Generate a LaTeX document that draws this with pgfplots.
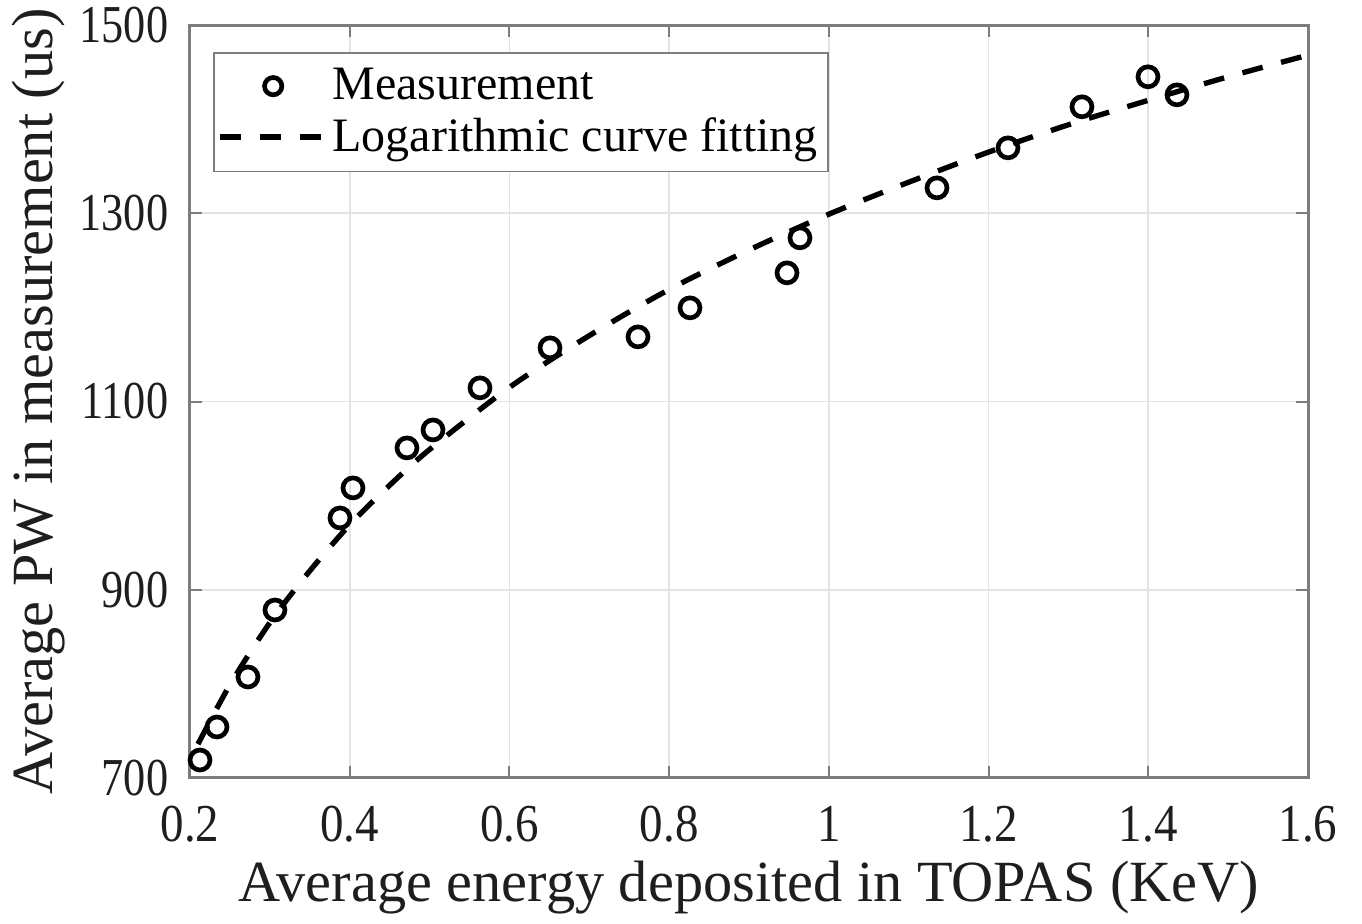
\documentclass[border=0pt]{standalone}
\usepackage{fontspec}
\setmainfont{Liberation Serif}
\newfontfamily\xtickfont{Liberation Serif}[FakeStretch=0.88]
\newfontfamily\ytickfont{Liberation Serif}[FakeStretch=0.83]
\usepackage{pgfplots}
\pgfplotsset{compat=1.18}

\definecolor{axgray}{RGB}{125,125,125}
\definecolor{txtgray}{RGB}{30,30,30}
\definecolor{gridgray}{RGB}{228,228,228}

\begin{document}
\begin{tikzpicture}
\begin{axis}[
    name=ax,
    width=335.4pt, height=225.9pt,
    scale only axis,
    xmin=0.2, xmax=1.6,
    ymin=700, ymax=1500,
    xtick={0.2,0.4,...,1.6},
    ytick={700,900,1100,1300,1500},
    xticklabels={0.2,0.4,0.6,0.8,1,1.2,1.4,1.6},
    /pgf/number format/1000 sep={},
    /pgf/number format/assume math mode=true,
    tick align=inside,
    major tick length=3.5pt,
    tick style={axgray, line width=0.6pt},
    axis line style={axgray, line width=0.9pt},
    grid=major,
    grid style={gridgray, line width=0.5pt},
    ticklabel style={text=txtgray},
    xticklabel style={font=\xtickfont\fontsize{16}{19}\selectfont, yshift=-5pt},
    yticklabel style={font=\ytickfont\fontsize{16}{19}\selectfont, xshift=-3pt},
    xlabel={Average energy deposited in TOPAS (KeV)},
    ylabel={Average PW in measurement (us)},
    label style={font=\fontsize{17.5}{21}\selectfont, text=txtgray},
    xlabel style={at={(rel axis cs:0.5,0)}, anchor=base, yshift=-37pt},
    ylabel style={at={(rel axis cs:0,0.5)}, anchor=base, yshift=41.1pt},
    legend cell align=left,
    legend style={
        at={(0.0206,0.964)}, anchor=north west,
        font=\fontsize{14.4}{16.5}\selectfont,
        draw=axgray, line width=0.5pt,
        inner xsep=1pt, inner ysep=2.5pt,
        row sep=0pt,
    },
    legend image code/.code={
        \draw[#1] (0pt,0pt) -- (31pt,0pt);
    },
]
\addplot[only marks, mark=o, mark size=3pt, black, line width=1.4pt,
    legend image code/.code={\draw[black, line width=1.4pt] (16pt,0pt) circle (2.6pt);}]
coordinates {
    (0.2125,719.1) (0.2338,754.2) (0.2726,807.3) (0.3064,878.5)
    (0.3878,976.3) (0.4041,1008.2) (0.4717,1050.7) (0.5043,1069.8)
    (0.5631,1114.5) (0.6508,1157.0) (0.7610,1168.7) (0.8261,1199.5)
    (0.9476,1236.7) (0.9638,1273.9) (1.1354,1327.0) (1.2243,1369.5)
    (1.3169,1413.1) (1.3996,1445.0) (1.4359,1425.8)
};
\addlegendentry{Measurement}
\addplot[black, line width=1.6pt, dash pattern=on 6.3pt off 5.7pt, smooth]
coordinates {
    (0.21,736) (0.25,799) (0.30,865) (0.35,920) (0.40,969) (0.45,1011)
    (0.50,1049) (0.60,1115) (0.70,1170) (0.80,1219) (0.90,1261)
    (1.00,1299) (1.10,1333) (1.20,1365) (1.30,1394) (1.40,1420)
    (1.50,1445) (1.60,1468)
};
\addlegendentry{Logarithmic curve fitting}
\end{axis}
\pgfresetboundingbox
\path[use as bounding box] (ax.south west) ++(-57pt,-43.8pt) rectangle ++(408.6pt,277.2pt);
\end{tikzpicture}
\end{document}
